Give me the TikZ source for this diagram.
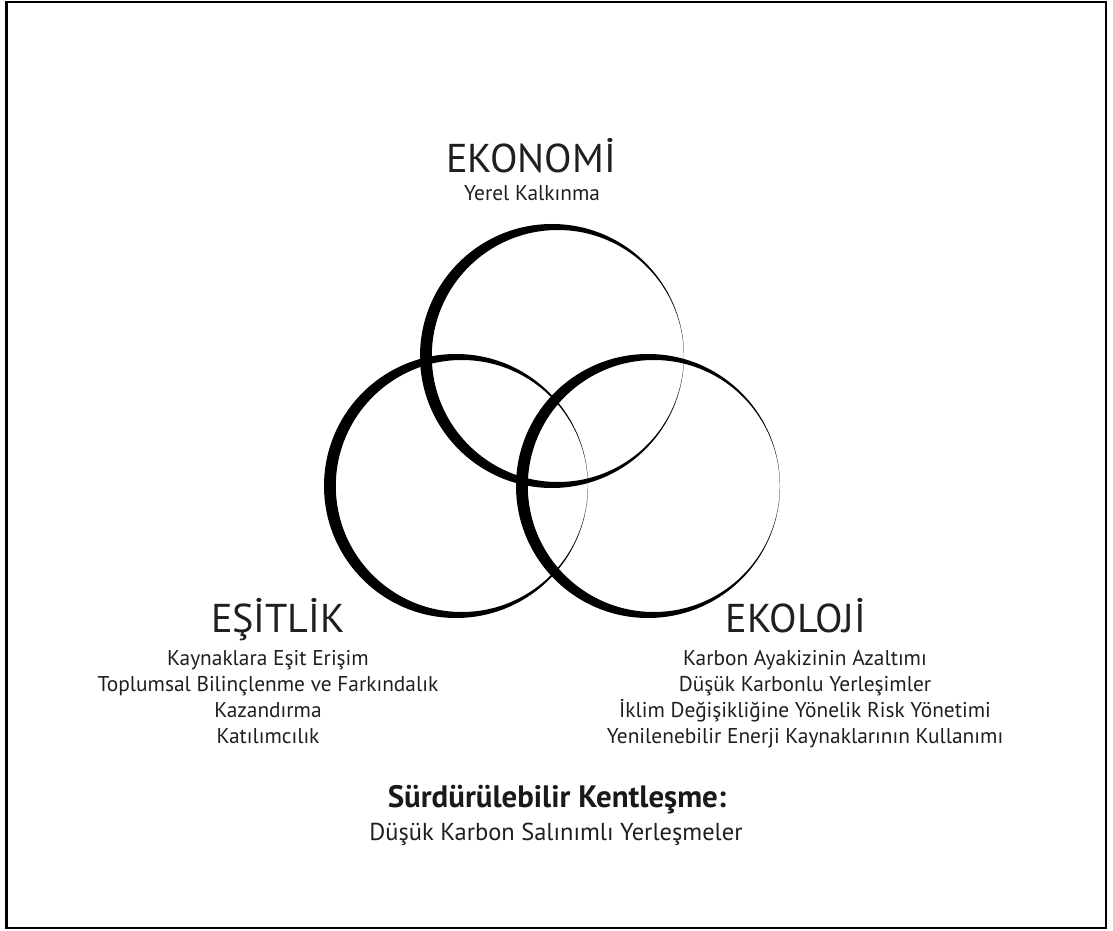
\documentclass[tikz,border=0pt]{standalone}
\usepackage{fontspec}
\setmainfont{PT Sans}
\usepackage{xcolor}

\begin{document}
\begin{tikzpicture}[x=0.025cm, y=-0.025cm, line width=0.4pt,
  head/.style={font=\fontsize{28.6}{30}\selectfont, text=black!88, inner sep=0pt, anchor=base},
  item/.style={font=\fontsize{15.2}{18}\selectfont, text=black!88, inner sep=0pt, anchor=base},
  title/.style={font=\fontsize{22}{24}\selectfont\bfseries, text=black!90, inner sep=0pt, anchor=base},
  subtitle/.style={font=\fontsize{17.4}{20}\selectfont, text=black!88, inner sep=0pt, anchor=base},
  ring/.style={fill=black, even odd rule}]
  \useasboundingbox (0,0) rectangle (1113,931);
  \draw[line width=1.6pt] (6.5,2) rectangle (1106,928);

  % the three rings, thick on the left side
  \coordinate (ekon) at (552,356);
  \coordinate (esit) at (456,486);
  \coordinate (ekol) at (648,486);
  \fill[ring] (ekon) circle (132) ([xshift=5.8*0.025cm]ekon) circle (126);
  \fill[ring] (esit) circle (132) ([xshift=5.8*0.025cm]esit) circle (126);
  \fill[ring] (ekol) circle (132) ([xshift=5.8*0.025cm]ekol) circle (126);

  \node[head] (ekonomi) at (531,173) {EKONOMİ};
  \node[item] (yerel) at (532,201) {Yerel Kalkınma};

  \node[head] (esitlik) at (278,632) {EŞİTLİK};
  \node[item] (l1) at (268,665) {Kaynaklara Eşit Erişim};
  \node[item] (l2) at (268,691) {Toplumsal Bilinçlenme ve Farkındalık};
  \node[item] (l3) at (268,717) {Kazandırma};
  \node[item] (l4) at (268,743) {Katılımcılık};

  \node[head] (ekoloji) at (796,632) {EKOLOJİ};
  \node[item] (r1) at (805,665) {Karbon Ayakizinin Azaltımı};
  \node[item] (r2) at (805,691) {Düşük Karbonlu Yerleşimler};
  \node[item] (r3) at (805,717) {İklim Değişikliğine Yönelik Risk Yönetimi};
  \node[item] (r4) at (805,743) {Yenilenebilir Enerji Kaynaklarının Kullanımı};

  \node[title] (kent) at (557,807) {Sürdürülebilir Kentleşme:};
  \node[subtitle] (salinim) at (556,840) {Düşük Karbon Salınımlı Yerleşmeler};
\end{tikzpicture}
\end{document}
